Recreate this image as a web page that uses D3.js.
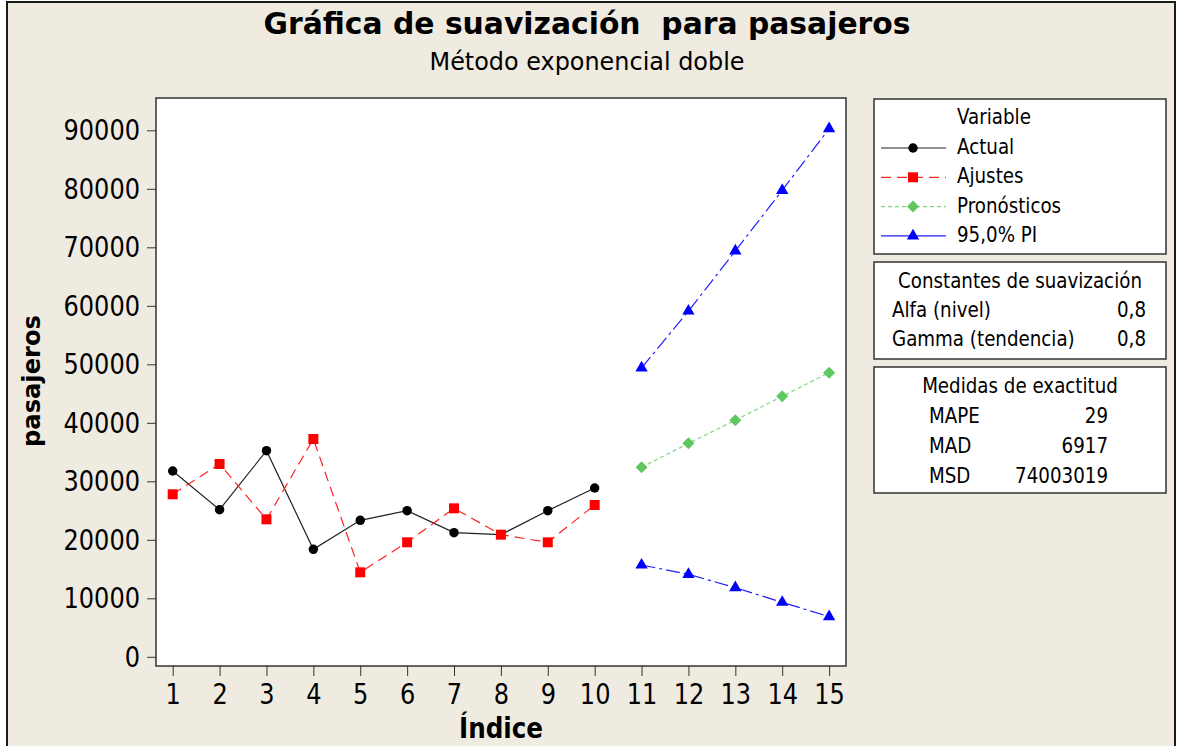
<!DOCTYPE html>
<html>
<head>
<meta charset="utf-8">
<script src="https://cdn.jsdelivr.net/npm/d3@7"></script>
<style>
body { margin: 0; background: #fff; }
svg { display: block; }
text { font-family: "DejaVu Sans", Verdana, sans-serif; fill: #000; }
</style>
</head>
<body>
<div id="chart"></div>
<script>
// data
var indice = [1, 2, 3, 4, 5, 6, 7, 8, 9, 10, 11, 12, 13, 14, 15];
var actual = [31760, 25150, 35230, 18370, 23330, 24980, 21220, 20880, 24980, 28850];
var ajustes = [27780, 32960, 23500, 37230, 14440, 19570, 25380, 20880, 19570, 25950];
var pronosticos = [32390, 36490, 40430, 44530, 48570];
var piUpper = [49370, 59110, 69370, 79740, 90270];
var piLower = [15690, 14100, 11810, 9320, 6860];
var yTicks = [0, 10000, 20000, 30000, 40000, 50000, 60000, 70000, 80000, 90000];
var legendNames = ["Actual", "Ajustes", "Pronósticos", "95,0% PI"];
var constLabels = ["Alfa (nivel)", "Gamma (tendencia)"];
var constValues = ["0,8", "0,8"];
var accLabels = ["MAPE", "MAD", "MSD"];
var accValues = ["29", "6917", "74003019"];

var W = 1178, H = 746, SX = 0.83;

var svg = d3.select("#chart").append("svg")
    .attr("width", W)
    .attr("height", H);

// background frame
svg.append("rect")
    .attr("x", 7).attr("y", 2)
    .attr("width", 1168).attr("height", 790)
    .attr("fill", "#f0ebe1")
    .attr("stroke", "#1a1a1a")
    .attr("stroke-width", 2);

function label(g, x, y, s, size, anchor, weight) {
  return g.append("text")
      .attr("transform", "translate(" + x + "," + y + ") scale(" + SX + ",1)")
      .attr("text-anchor", anchor || "start")
      .style("font-size", size + "px")
      .style("font-weight", weight || null)
      .text(s);
}

// titles
svg.append("text")
    .attr("x", 587).attr("y", 34)
    .attr("text-anchor", "middle")
    .attr("textLength", 647).attr("lengthAdjust", "spacingAndGlyphs")
    .style("font-size", "30px").style("font-weight", "bold")
    .style("white-space", "pre")
    .text("Gráfica de suavización  para pasajeros");
svg.append("text")
    .attr("x", 587).attr("y", 70)
    .attr("text-anchor", "middle")
    .attr("textLength", 315).attr("lengthAdjust", "spacingAndGlyphs")
    .style("font-size", "25px")
    .text("Método exponencial doble");

// plot area
var x = d3.scaleLinear().domain([1, 15]).range([172.7, 829.1]);
var y = d3.scaleLinear().domain([0, 90000]).range([656.8, 130.3]);

svg.append("rect")
    .attr("x", 156).attr("y", 98)
    .attr("width", 690).attr("height", 568)
    .attr("fill", "#fff")
    .attr("stroke", "#333")
    .attr("stroke-width", 1.5);

var gY = svg.append("g")
    .attr("transform", "translate(156,0)")
    .call(d3.axisLeft(y).tickValues(yTicks).tickSize(9).tickFormat(d3.format("d")))
    .attr("font-size", null).attr("font-family", null);
gY.select(".domain").remove();
gY.selectAll("line").attr("stroke", "#333");
gY.selectAll("text")
    .attr("x", -16 / SX)
    .attr("transform", "scale(" + SX + ",1)")
    .style("font-size", "29px");

var gX = svg.append("g")
    .attr("transform", "translate(0,666)")
    .call(d3.axisBottom(x).tickValues(indice).tickSize(10).tickFormat(d3.format("d")))
    .attr("font-size", null).attr("font-family", null);
gX.select(".domain").remove();
gX.selectAll("line").attr("stroke", "#333");
gX.selectAll("text")
    .attr("y", 38).attr("dy", 0)
    .attr("transform", "scale(" + SX + ",1)")
    .style("font-size", "29px");

svg.append("text")
    .attr("x", 501).attr("y", 738)
    .attr("text-anchor", "middle")
    .attr("textLength", 84).attr("lengthAdjust", "spacingAndGlyphs")
    .style("font-size", "28px").style("font-weight", "bold")
    .text("Índice");
svg.append("text")
    .attr("transform", "translate(40,381) rotate(-90)")
    .attr("text-anchor", "middle")
    .attr("textLength", 132).attr("lengthAdjust", "spacingAndGlyphs")
    .style("font-size", "24px").style("font-weight", "bold")
    .text("pasajeros");

// series
function pts(vals, start) {
  return vals.map(function(v, k) { return { i: indice[start + k], v: v }; });
}
var series = [
  { data: pts(actual, 0), color: "#000", line: "#222", dash: null, sym: d3.symbolCircle, size: 70, rot: 0 },
  { data: pts(ajustes, 0), color: "#ff0000", line: "#ff2020", dash: "10,6", sym: d3.symbolSquare, size: 100, rot: 0 },
  { data: pts(pronosticos, 10), color: "#5fc75f", line: "#7fd67f", dash: "4,3", sym: d3.symbolSquare, size: 72, rot: 45 },
  { data: pts(piUpper, 10), color: "#0000ff", line: "#2020ff", dash: "14,4,3,4", sym: d3.symbolTriangle, size: 66, rot: 0 },
  { data: pts(piLower, 10), color: "#0000ff", line: "#2020ff", dash: "14,4,3,4", sym: d3.symbolTriangle, size: 66, rot: 0 }
];

var line = d3.line()
    .x(function(d) { return x(d.i); })
    .y(function(d) { return y(d.v); });

series.forEach(function(s) {
  svg.append("path")
      .datum(s.data)
      .attr("d", line)
      .attr("fill", "none")
      .attr("stroke", s.line)
      .attr("stroke-width", 1.2)
      .attr("stroke-dasharray", s.dash);
  svg.selectAll(null)
      .data(s.data)
      .enter().append("path")
      .attr("d", d3.symbol().type(s.sym).size(s.size))
      .attr("transform", function(d) {
        return "translate(" + x(d.i) + "," + y(d.v) + ") rotate(" + s.rot + ")";
      })
      .attr("fill", s.color);
});

// legend
var lg = svg.append("g");
function box(y0, h) {
  lg.append("rect")
      .attr("x", 874).attr("y", y0)
      .attr("width", 292).attr("height", h)
      .attr("fill", "#fff")
      .attr("stroke", "#333")
      .attr("stroke-width", 1.5);
}
box(99, 155);
box(262, 97);
box(367, 126);

label(lg, 957, 124, "Variable", 22);
legendNames.forEach(function(name, k) {
  var s = series[k];
  var by = 154 + k * 29.3, my = by - 6;
  lg.append("line")
      .attr("x1", 881).attr("x2", 946)
      .attr("y1", my).attr("y2", my)
      .attr("stroke", s.line)
      .attr("stroke-width", 1.2)
      .attr("stroke-dasharray", s.dash ? (k === 3 ? null : s.dash) : null);
  lg.append("path")
      .attr("d", d3.symbol().type(s.sym).size(s.size))
      .attr("transform", "translate(913," + my + ") rotate(" + s.rot + ")")
      .attr("fill", s.color);
  label(lg, 957, by, name, 22);
});

label(lg, 1020, 288, "Constantes de suavización", 22, "middle");
constLabels.forEach(function(t, k) {
  label(lg, 892, 317 + k * 28.5, t, 22);
  label(lg, 1146, 317 + k * 28.5, constValues[k], 22, "end");
});

label(lg, 1020, 393, "Medidas de exactitud", 22, "middle");
accLabels.forEach(function(t, k) {
  label(lg, 929, 423 + k * 30, t, 22);
  label(lg, 1108, 423 + k * 30, accValues[k], 22, "end");
});
</script>
</body>
</html>
